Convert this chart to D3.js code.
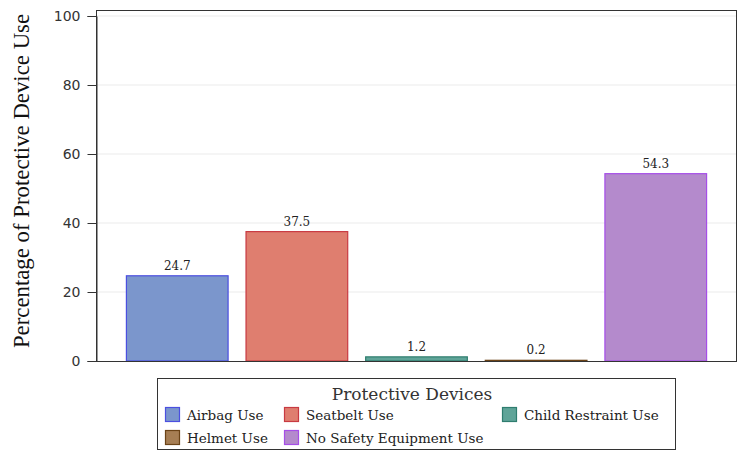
<!DOCTYPE html>
<html><head><meta charset="utf-8">
<script src="https://cdn.jsdelivr.net/npm/d3@7"></script>
<style>body{margin:0;background:#fff}</style>
</head><body>
<svg id="c" width="744" height="451"></svg>
<script>
const categories = ["Airbag Use","Seatbelt Use","Child Restraint Use","Helmet Use","No Safety Equipment Use"];
const values = [24.7, 37.5, 1.2, 0.2, 54.3];
const fills = ["#7b96cc","#df7e6f","#5fa498","#a67e54","#b48acc"];
const strokes = ["#4b4fe0","#c83a42","#2f7d6f","#6b4317","#a64ee8"];
const yTicks = [0,20,40,60,80,100];

const svg = d3.select("#c");
const L=96, R=736, T=10, B=361;
const x = d3.scaleBand().domain(categories).range([L,R]).paddingInner(0.15).paddingOuter(0.25);
const y = d3.scaleLinear().domain([0,100]).range([B,16]);

// grid
svg.append("g").selectAll("line").data(yTicks.filter(d=>d>0)).join("line")
  .attr("x1",L).attr("x2",R).attr("y1",d=>y(d)).attr("y2",d=>y(d))
  .attr("stroke","#ebebeb").attr("stroke-width",1);

// bars
svg.append("g").selectAll("rect").data(categories).join("rect")
  .attr("x",d=>x(d)+0.5).attr("width",x.bandwidth())
  .attr("y",(d,i)=>y(values[i])).attr("height",(d,i)=>B-y(values[i]))
  .attr("fill",(d,i)=>fills[i]).attr("stroke",(d,i)=>strokes[i]).attr("stroke-width",1.2);

// labels
svg.append("g").selectAll("text").data(categories).join("text")
  .attr("x",d=>x(d)+x.bandwidth()/2+0.5).attr("y",(d,i)=>y(values[i])-6)
  .attr("text-anchor","middle").attr("font-family","DejaVu Serif").attr("font-size",12).attr("fill","#222")
  .text((d,i)=>values[i].toFixed(1));

// frame
svg.append("rect").attr("x",L+0.5).attr("y",T+0.5).attr("width",R-L).attr("height",B-T)
  .attr("fill","none").attr("stroke","#333").attr("stroke-width",1);

// y axis
const ya = svg.append("g").attr("transform",`translate(${L+0.5},0)`)
  .call(d3.axisLeft(y).tickValues(yTicks).tickSize(9).tickPadding(7));
ya.select(".domain").attr("stroke","#333");
ya.selectAll(".tick line").attr("stroke","#333");
ya.selectAll("text").attr("font-family","DejaVu Sans").attr("font-size",14).attr("fill","#333");

svg.append("text").attr("transform","translate(29,181) rotate(-90)")
  .attr("text-anchor","middle").attr("font-family","Liberation Serif").attr("font-size",22.8).attr("fill","#111")
  .text("Percentage of Protective Device Use");

// legend
const lg = svg.append("g");
lg.append("rect").attr("x",157.5).attr("y",378.5).attr("width",518).attr("height",71)
  .attr("fill","none").attr("stroke","#333");
lg.append("text").attr("x",412).attr("y",400).attr("text-anchor","middle")
  .attr("font-family","DejaVu Serif").attr("font-size",17).attr("font-weight",300).attr("fill","#333").text("Protective Devices");
const pos = [[165,415],[284,415],[502,415],[165,438],[284,438]];
const items = lg.selectAll("g.it").data(categories).join("g").attr("class","it")
  .attr("transform",(d,i)=>`translate(${pos[i][0]},${pos[i][1]})`);
items.append("rect").attr("x",0.5).attr("y",-7.5).attr("width",14).attr("height",14)
  .attr("fill",(d,i)=>fills[i]).attr("stroke",(d,i)=>strokes[i]).attr("stroke-width",1.2);
items.append("text").attr("x",22).attr("y",5).attr("font-family","DejaVu Serif").attr("font-size",13.5)
  .attr("fill","#222").text(d=>d);
</script>
</body></html>
